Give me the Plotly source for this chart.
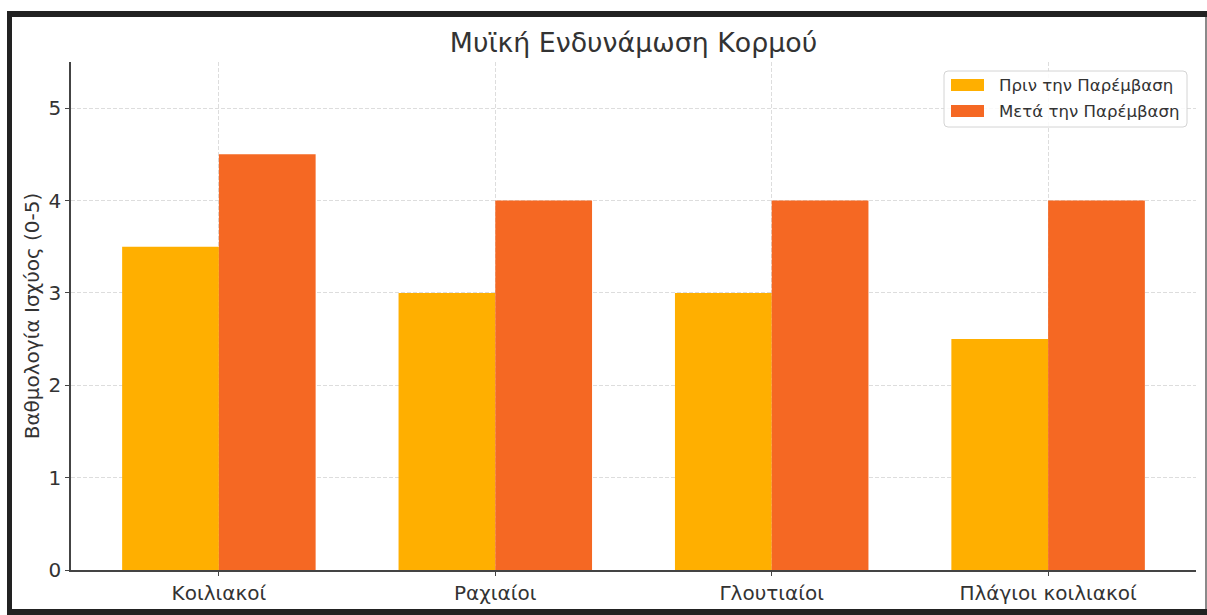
import plotly.graph_objects as go

categories = ["Κοιλιακοί", "Ραχιαίοι", "Γλουτιαίοι", "Πλάγιοι κοιλιακοί"]
before = [3.5, 3.0, 3.0, 2.5]
after = [4.5, 4.0, 4.0, 4.0]
series_names = ["Πριν την Παρέμβαση", "Μετά την Παρέμβαση"]
series_colors = ["#FFAF00", "#F56823"]
y_ticks = [0, 1, 2, 3, 4, 5]

W, H = 1207, 615
L, R, T, B = 71, 1196, 62, 570


def px_x(p):
    return (p - L) / (R - L)


def px_y(p):
    return (B - p) / (B - T)


FONT = "DejaVu Sans"
TXT = "#333333"

x_pos = list(range(len(categories)))

fig = go.Figure()
for vals, name, col in zip([before, after], series_names, series_colors):
    fig.add_trace(go.Bar(x=x_pos, y=vals, name=name, showlegend=False,
                         marker=dict(color=col, line=dict(width=0))))

shapes = [
    dict(type="rect", xref="paper", yref="paper", layer="below",
         x0=px_x(7), x1=px_x(1207), y0=px_y(615), y1=px_y(11),
         fillcolor="#222222", line=dict(width=0)),
    dict(type="rect", xref="paper", yref="paper", layer="below",
         x0=px_x(12), x1=px_x(1205), y0=px_y(609), y1=px_y(17),
         fillcolor="#ffffff", line=dict(width=0)),
    dict(type="rect", xref="paper", yref="paper", layer="below",
         x0=px_x(1205), x1=px_x(1207), y0=px_y(609), y1=px_y(17),
         fillcolor="#8a8a8a", line=dict(width=0)),
]

# legend box (rounded) drawn manually
lx0, lx1, ly0, ly1, rr = 944, 1187, 71, 127, 4
path = (f"M {px_x(lx0 + rr)} {px_y(ly0)} L {px_x(lx1 - rr)} {px_y(ly0)} "
        f"Q {px_x(lx1)} {px_y(ly0)} {px_x(lx1)} {px_y(ly0 + rr)} "
        f"L {px_x(lx1)} {px_y(ly1 - rr)} "
        f"Q {px_x(lx1)} {px_y(ly1)} {px_x(lx1 - rr)} {px_y(ly1)} "
        f"L {px_x(lx0 + rr)} {px_y(ly1)} "
        f"Q {px_x(lx0)} {px_y(ly1)} {px_x(lx0)} {px_y(ly1 - rr)} "
        f"L {px_x(lx0)} {px_y(ly0 + rr)} "
        f"Q {px_x(lx0)} {px_y(ly0)} {px_x(lx0 + rr)} {px_y(ly0)} Z")
shapes.append(dict(type="path", path=path, xref="paper", yref="paper",
                   fillcolor="rgba(255,255,255,0.85)",
                   line=dict(color="#d4d4d4", width=1), layer="above"))
annotations = []
for i, (name, col) in enumerate(zip(series_names, series_colors)):
    yc = 85 + i * 26
    shapes.append(dict(type="rect", xref="paper", yref="paper", layer="above",
                       x0=px_x(951), x1=px_x(984), y0=px_y(yc + 6), y1=px_y(yc - 6),
                       fillcolor=col, line=dict(width=0)))
    annotations.append(dict(text=name, xref="paper", yref="paper",
                            x=px_x(997), y=px_y(yc), xanchor="left",
                            yanchor="middle", showarrow=False,
                            font=dict(family=FONT, size=16.6, color=TXT)))

fig.update_layout(
    width=W, height=H,
    margin=dict(l=L, r=W - R, t=T, b=H - B, autoexpand=False),
    paper_bgcolor="#ffffff",
    plot_bgcolor="rgba(0,0,0,0)",
    barmode="group",
    bargap=0.3,
    bargroupgap=0,
    font=dict(family=FONT, color=TXT, size=20),
    title=dict(text="Μυϊκή Ενδυνάμωση Κορμού", x=0.5, xref="paper",
               xanchor="center", y=1 - 43 / H,
               yanchor="middle", yref="container",
               font=dict(family=FONT, size=26.8, color=TXT)),
    shapes=shapes,
    annotations=annotations,
    showlegend=False,
)

fig.update_xaxes(
    range=[-0.535, 3.535],
    tickmode="array", tickvals=x_pos, ticktext=categories,
    showline=True, linecolor="#444444", linewidth=1.5,
    ticks="outside", ticklen=4, tickcolor="#444444",
    showgrid=True, gridcolor="#dddddd", griddash="4px,2px", gridwidth=1,
    zeroline=False,
    tickfont=dict(family=FONT, size=20, color=TXT),
)
fig.update_yaxes(
    range=[0, 5.5],
    tickmode="array", tickvals=y_ticks,
    showline=True, linecolor="#444444", linewidth=1.5,
    ticks="outside", ticklen=4, tickcolor="#444444",
    showgrid=True, gridcolor="#dddddd", griddash="4px,2px", gridwidth=1,
    zeroline=False,
    tickfont=dict(family=FONT, size=20, color=TXT),
    title=dict(text="Βαθμολογία Ισχύος (0-5)", standoff=4,
               font=dict(family=FONT, size=20, color=TXT)),
)

fig.write_html("out.html")
